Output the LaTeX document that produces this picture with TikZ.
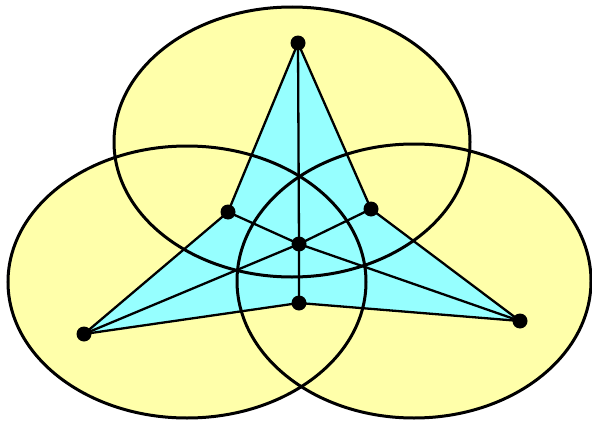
\documentclass[tikz,border=0pt]{standalone}
\begin{document}
\begin{tikzpicture}[x=1pt,y=-1pt,
  yelfill/.style={fill=yelc},
  ring/.style={draw=black,line width=3pt},
  edge/.style={draw=black,line width=2.3pt,line join=round},
  dot/.style={circle,fill=black,inner sep=0pt,minimum size=15pt}]
\definecolor{yelc}{RGB}{255,255,170}
\definecolor{cy}{RGB}{150,255,255}
\useasboundingbox (0,0) rectangle (592,423);
\coordinate (T) at (298,43);
\coordinate (LM) at (228,212);
\coordinate (RM) at (371,209);
\coordinate (C) at (299,244);
\coordinate (B) at (299,303);
\coordinate (L) at (84,334);
\coordinate (R) at (520,321);
% fills
\fill[yelfill] (292,142) ellipse [x radius=178,y radius=135];
\fill[yelfill] (187,282) ellipse [x radius=179,y radius=136];
\fill[yelfill] (414,281) ellipse [x radius=177,y radius=137];
\fill[cy] (T) -- (LM) -- (L) -- (B) -- (R) -- (RM) -- cycle;
% outlines
\draw[ring] (292,142) ellipse [x radius=178,y radius=135];
\draw[ring] (187,282) ellipse [x radius=179,y radius=136];
\draw[ring] (414,281) ellipse [x radius=177,y radius=137];
% edges
\draw[edge] (T) -- (LM) -- (L) -- (B) -- (R) -- (RM) -- cycle;
\draw[edge] (T) -- (C) -- (B);
\draw[edge] (LM) -- (C) -- (R);
\draw[edge] (RM) -- (C) -- (L);
% dots
\node[dot] (dT) at (T) {};
\node[dot] (dLM) at (LM) {};
\node[dot] (dRM) at (RM) {};
\node[dot] (dC) at (C) {};
\node[dot] (dB) at (B) {};
\node[dot] (dL) at (L) {};
\node[dot] (dR) at (R) {};
\end{tikzpicture}
\end{document}
